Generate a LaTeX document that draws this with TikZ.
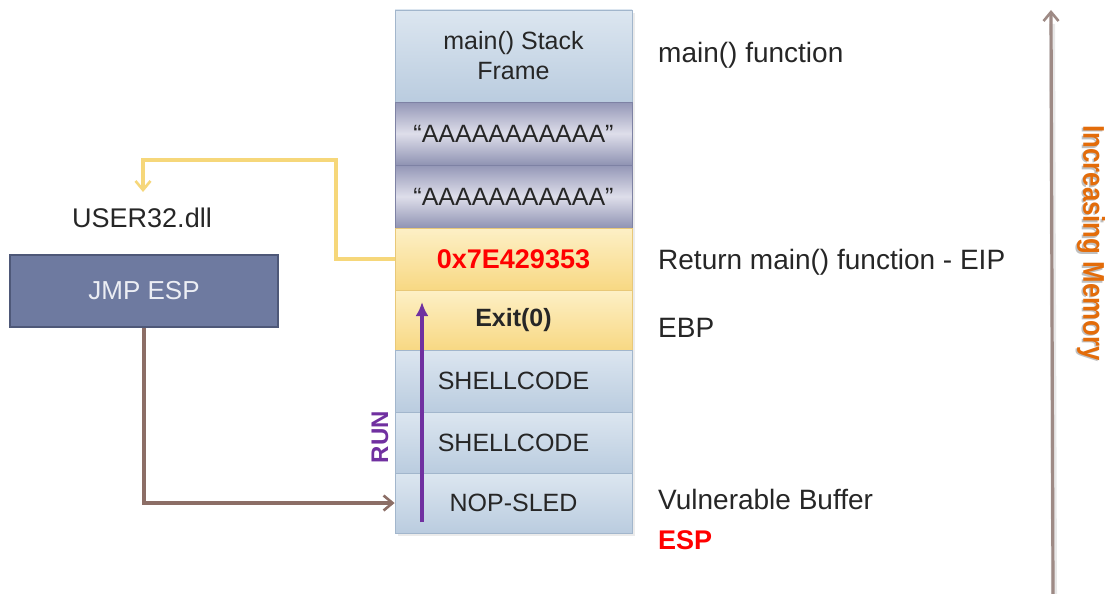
\documentclass[tikz,border=0pt]{standalone}
\usepackage{fontspec}
\setmainfont{Liberation Sans}
\usetikzlibrary{arrows.meta}

\definecolor{textdark}{HTML}{262626}
\definecolor{blueT}{HTML}{DCE6F0}
\definecolor{blueB}{HTML}{BACCDF}
\definecolor{blueline}{HTML}{A2B6CC}
\definecolor{purpT}{HTML}{9396B6}
\definecolor{purpM}{HTML}{DEDEEA}
\definecolor{purpB}{HTML}{8F93B3}
\definecolor{purpline}{HTML}{7E82A4}
\definecolor{yelT}{HTML}{FDF0C6}
\definecolor{yelB}{HTML}{F8D883}
\definecolor{yelline}{HTML}{E8C878}
\definecolor{jmpfill}{HTML}{6E7AA0}
\definecolor{jmpline}{HTML}{4E5878}
\definecolor{jmptext}{HTML}{ECEEF4}
\definecolor{goldarrow}{HTML}{F6D77A}
\definecolor{brownarrow}{HTML}{8C6E66}
\definecolor{runpurple}{HTML}{7030A0}
\definecolor{memarrow}{HTML}{9E8A85}
\definecolor{memorange}{HTML}{E36C0A}
\definecolor{hotred}{HTML}{FF0000}

\begin{document}
\begin{tikzpicture}[x=1pt,y=-1pt,
  cell/.style={draw=blueline, line width=0.8pt, minimum width=237pt,
    inner sep=0pt, font=\fontsize{25}{30}\selectfont, text=textdark, align=center},
  bluecell/.style={cell, top color=blueT, bottom color=blueB},
  purplecell/.style={cell, draw=purpline, top color=purpT, bottom color=purpB, middle color=purpM},
  yellowcell/.style={cell, draw=yelline, top color=yelT, bottom color=yelB},
  sidelabel/.style={anchor=west, inner sep=0pt, text=textdark,
    font=\fontsize{28}{30}\selectfont},
  barb/.style={-{Straight Barb[length=9pt,width=15pt,line width=2.6pt]}},
]
\useasboundingbox (0,0) rectangle (1108,594);
\fill[white] (0,0) rectangle (1108,594);

% soft shadow behind the stack column
\fill[black!8] (398,13) rectangle (635,536);

% stack cells, top to bottom
\node[bluecell, minimum height=92pt]   (frame) at (513.5,56)    {main() Stack\\[0pt]Frame};
\node[purplecell, minimum height=63pt] (fillA) at (513.5,133.5) {“AAAAAAAAAAA”};
\node[purplecell, minimum height=63pt] (fillB) at (513.5,196.5) {“AAAAAAAAAAA”};
\node[yellowcell, minimum height=62pt] (ret)   at (513.5,259)
  {\fontsize{27}{30}\selectfont\bfseries\color{hotred}0x7E429353};
\node[yellowcell, minimum height=60pt] (ebp)   at (513.5,320)   {\bfseries Exit(0)};
\node[bluecell, minimum height=62pt]   (shA)   at (513.5,381)   {SHELLCODE};
\node[bluecell, minimum height=61pt]   (shB)   at (513.5,442.5) {SHELLCODE};
\node[bluecell, minimum height=60pt]   (nop)   at (513.5,503)   {NOP-SLED};

% labels to the right of the stack
\node[sidelabel] (lmain) at (658,55)  {main() function};
\node[sidelabel] (lret)  at (658,262) {Return main() function - EIP};
\node[sidelabel] (lebp)  at (658,328) {EBP};
\node[sidelabel] (lbuf)  at (658,499) {Vulnerable Buffer};
\node[sidelabel, font=\fontsize{27}{30}\selectfont\bfseries, text=hotred] (lesp) at (658,540) {ESP};

% the DLL and its gadget
\node[inner sep=0pt, text=textdark, font=\fontsize{27}{30}\selectfont] (dll) at (142,218) {USER32.dll};
\node[draw=jmpline, line width=1.2pt, fill=jmpfill, text=jmptext,
  minimum width=268pt, minimum height=72pt, inner sep=0pt,
  font=\fontsize{26}{30}\selectfont] (jmp) at (144,291) {JMP ESP};

% return address points into USER32.dll
\coordinate (retbend) at (336,160);
\coordinate (dlltip) at (143,192);
\draw[goldarrow, line width=3.4pt, barb] (ret.west) -| (retbend) -| (dlltip);

% JMP ESP lands on the NOP sled
\draw[brownarrow, line width=3.2pt, barb] (jmp.south) |- (nop.west);

% execution runs up the sled
\coordinate (runfrom) at (422,522);
\coordinate (runto) at (422,302);
\draw[runpurple, line width=3.6pt, -{Latex[length=14pt,width=13pt]}] (runfrom) -- (runto);
\node[rotate=90, inner sep=0pt, text=runpurple, font=\fontsize{24}{28}\selectfont\bfseries] (run) at (380,437) {RUN};

% memory direction
\coordinate (memlow) at (1053,594);
\coordinate (memhigh) at (1051,10);
\draw[black!9, line width=6pt] ([xshift=1pt]memlow) -- ([xshift=1pt,yshift=-14pt]memhigh);
\draw[memarrow, line width=3.2pt, barb] (memlow) -- (memhigh);
\node[rotate=-90, inner sep=0pt, text=black!25, xscale=0.86,
  font=\fontsize{30}{30}\selectfont\bfseries] at (1089.5,244.5) {Increasing Memory};
\node[rotate=-90, inner sep=0pt, text=memorange, xscale=0.86,
  font=\fontsize{30}{30}\selectfont\bfseries] (mem) at (1091,243) {Increasing Memory};
\end{tikzpicture}
\end{document}
